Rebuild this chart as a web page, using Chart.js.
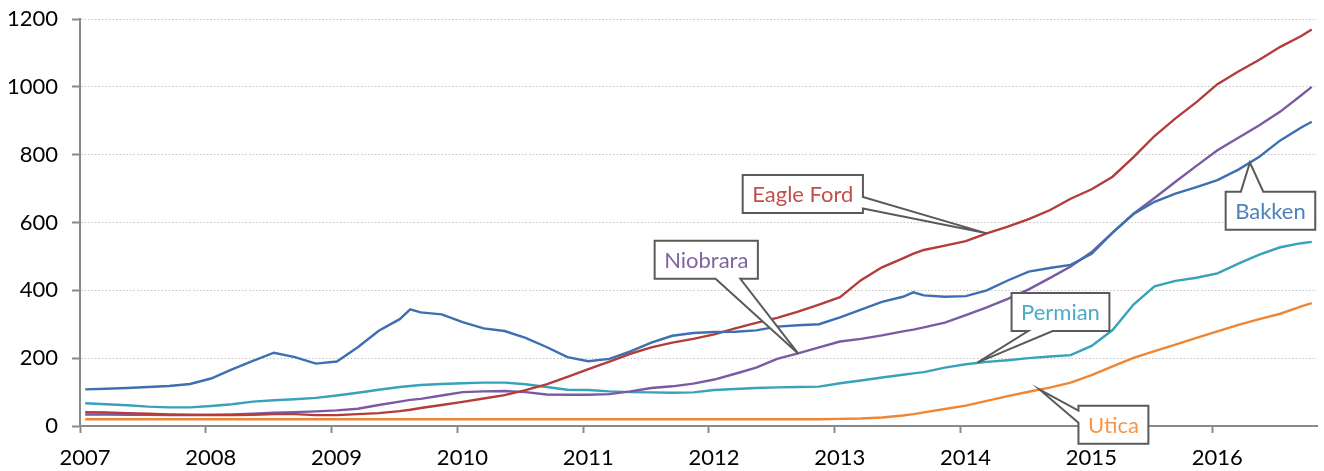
<!DOCTYPE html>
<html>
<head>
<meta charset="utf-8">
<script src="https://cdn.jsdelivr.net/npm/chart.js@4.4.0/dist/chart.umd.min.js"></script>
<style>
  html, body { margin: 0; padding: 0; background: #fff; }
  #wrap { width: 1324px; height: 471px; }
</style>
</head>
<body>
<div id="wrap"><canvas id="chart" width="1324" height="471"></canvas></div>
<script>
// Monthly production by play, months counted from Jan 2007 (points sit mid-month)
const months = [0, 2, 4, 6, 8, 10, 12, 14, 16, 18, 20, 22, 24, 26, 28, 30, 31, 32, 34, 36, 38, 40, 42, 44, 46, 48,
    50, 52, 54, 56, 58, 60, 62, 64, 66, 68, 70, 72, 74, 76, 78, 79, 80, 82, 84, 86, 88, 90, 92, 94, 96, 98,
    100, 102, 104, 106, 108, 110, 112, 114, 116, 117];

const yearLabels = ['2007', '2008', '2009', '2010', '2011', '2012', '2013', '2014', '2015', '2016'];

const bakken = [108, 110, 112, 115, 118, 124, 140, 167, 192, 216, 203, 184, 190, 232, 281, 315, 344, 335, 329, 306,
    288, 280, 260, 233, 203, 191, 198, 220, 246, 266, 274, 277, 278, 282, 293, 297, 300, 320, 343, 366, 381, 394,
    385, 381, 383, 400, 429, 455, 466, 475, 508, 570, 625, 661, 685, 704, 725, 756, 794, 842, 880, 897];

const eagleFord = [41, 40, 38, 36, 34, 33, 32, 32, 33, 35, 35, 32, 32, 35, 38, 44, 48, 53, 62, 71, 81, 91, 106,
    123, 145, 168, 190, 213, 232, 246, 257, 270, 288, 304, 319, 337, 358, 380, 430, 468, 494, 508, 519, 532, 545,
    568, 588, 610, 636, 670, 698, 735, 793, 855, 907, 955, 1008, 1045, 1080, 1118, 1150, 1169];

const niobrara = [34, 34, 33, 33, 32, 32, 33, 34, 36, 39, 41, 43, 46, 51, 62, 72, 77, 80, 90, 100, 102, 103, 100,
    93, 92, 92, 94, 102, 112, 117, 125, 137, 154, 172, 198, 214, 232, 249, 257, 267, 279, 284, 291, 305, 327, 350,
    375, 403, 436, 470, 513, 570, 626, 672, 720, 767, 813, 850, 887, 927, 975, 1000];

const permian = [67, 64, 61, 57, 55, 55, 59, 64, 72, 76, 79, 83, 90, 98, 107, 115, 118, 121, 124, 126, 128, 128,
    123, 115, 107, 106, 102, 100, 99, 98, 99, 106, 109, 112, 114, 115, 116, 126, 134, 143, 151, 155, 159, 172, 182,
    189, 194, 200, 205, 209, 236, 283, 358, 412, 428, 437, 450, 479, 505, 527, 539, 543];

const utica = [20, 20, 20, 20, 20, 20, 20, 20, 20, 20, 20, 20, 20, 20, 20, 20, 20, 20, 20, 20, 20, 20, 20, 20, 20,
    20, 20, 20, 20, 20, 20, 20, 20, 20, 20, 20, 20, 21, 22, 25, 31, 35, 40, 50, 60, 74, 88, 101, 113, 128, 150,
    176, 201, 221, 240, 260, 279, 298, 315, 331, 353, 362];

const seriesNames = ['Bakken', 'Eagle Ford', 'Niobrara', 'Permian', 'Utica'];
const lineColors = ['#3d6fb1', '#b33d3b', '#7a5aa2', '#37a2ba', '#ee8634'];
const labelColors = ['#4f81bd', '#c0504d', '#8064a2', '#4bacc6', '#f79646'];

// Callout boxes: anchor on the line and box centre in data units (month, value)
const callouts = [
    { series: 1, at: [86.5, 568], box: [68.95, 684], side: 'right', wedge: [0.58, 0.88] },
    { series: 2, at: [68.5, 214], box: [59.74, 490], side: 'bottom', wedge: [0.59, 0.83] },
    { series: 3, at: [85.6, 187], box: [93.53, 336], side: 'bottom', wedge: [0.17, 0.42] },
    { series: 0, at: [111.6, 777], box: [113.56, 635], side: 'top', wedge: [0.17, 0.42] },
    { series: 4, at: [91.55, 107], box: [98.58, 4], side: 'left', wedge: [0.13, 0.45] }
];

const FONT = 'Lato, "Open Sans", sans-serif';
const FONT_SIZE = 22;
const AXIS_GREY = '#8a8a8a';

function toPoints(values) {
    return values.map((v, i) => ({ x: months[i] + 0.5, y: v }));
}

const seriesValues = [bakken, eagleFord, niobrara, permian, utica];

const calloutPlugin = {
    id: 'callouts',
    afterDatasetsDraw(chart) {
        const ctx = chart.ctx;
        const xs = chart.scales.x;
        const ys = chart.scales.y;
        ctx.save();
        ctx.font = FONT_SIZE + 'px ' + FONT;
        callouts.forEach(c => {
            const text = seriesNames[c.series];
            const w = ctx.measureText(text).width + 19;
            const h = 38;
            const cx = xs.getPixelForValue(c.box[0]);
            const cy = ys.getPixelForValue(c.box[1]);
            const ax = xs.getPixelForValue(c.at[0]);
            const ay = ys.getPixelForValue(c.at[1]);
            const l = cx - w / 2, r = cx + w / 2, t = cy - h / 2, b = cy + h / 2;
            const [f1, f2] = c.wedge;

            ctx.beginPath();
            ctx.moveTo(l, t);
            if (c.side === 'top') {
                ctx.lineTo(l + f1 * w, t);
                ctx.lineTo(ax, ay);
                ctx.lineTo(l + f2 * w, t);
            }
            ctx.lineTo(r, t);
            if (c.side === 'right') {
                ctx.lineTo(r, t + f1 * h);
                ctx.lineTo(ax, ay);
                ctx.lineTo(r, t + f2 * h);
            }
            ctx.lineTo(r, b);
            if (c.side === 'bottom') {
                ctx.lineTo(l + f2 * w, b);
                ctx.lineTo(ax, ay);
                ctx.lineTo(l + f1 * w, b);
            }
            ctx.lineTo(l, b);
            if (c.side === 'left') {
                ctx.lineTo(l, t + f2 * h);
                ctx.lineTo(ax, ay);
                ctx.lineTo(l, t + f1 * h);
            }
            ctx.closePath();
            ctx.fillStyle = '#ffffff';
            ctx.fill();
            ctx.lineWidth = 2;
            ctx.lineJoin = 'miter';
            ctx.strokeStyle = '#5a5a5a';
            ctx.stroke();

            ctx.fillStyle = labelColors[c.series];
            ctx.textAlign = 'center';
            ctx.textBaseline = 'middle';
            ctx.fillText(text, cx, cy + 1);
        });
        ctx.restore();
    }
};

new Chart(document.getElementById('chart'), {
    type: 'line',
    data: {
        datasets: seriesNames.map((name, i) => ({
            label: name,
            data: toPoints(seriesValues[i]),
            borderColor: lineColors[i],
            backgroundColor: lineColors[i],
            borderWidth: 2.4,
            pointRadius: 0,
            tension: 0,
            fill: false
        }))
    },
    options: {
        responsive: false,
        animation: false,
        devicePixelRatio: 1,
        layout: { padding: { top: 19, right: 7, left: 0, bottom: 0 } },
        plugins: {
            legend: { display: false },
            tooltip: { enabled: false }
        },
        scales: {
            x: {
                type: 'linear',
                min: 0,
                max: 118,
                afterFit: scale => {
                    scale.height = 45;
                    scale.paddingLeft = 0;
                    scale.paddingRight = 0;
                },
                grid: {
                    drawOnChartArea: false,
                    drawTicks: true,
                    tickLength: 7,
                    tickWidth: 2,
                    tickColor: AXIS_GREY
                },
                border: { display: true, color: AXIS_GREY, width: 2 },
                ticks: {
                    stepSize: 12,
                    includeBounds: false,
                    autoSkip: false,
                    maxRotation: 0,
                    labelOffset: 5,
                    padding: 12,
                    color: '#000',
                    font: { family: FONT, size: FONT_SIZE },
                    callback: value => yearLabels[value / 12] || ''
                }
            },
            y: {
                min: 0,
                max: 1200,
                afterFit: scale => {
                    scale.width = 80;
                    scale.paddingTop = 0;
                    scale.paddingBottom = 0;
                },
                grid: {
                    color: c => c.tick && c.tick.value === 0 ? 'rgba(0,0,0,0)' : '#c4c4c4',
                    lineWidth: 1,
                    drawTicks: true,
                    tickLength: 8,
                    tickWidth: 2,
                    tickColor: AXIS_GREY,
                    tickBorderDash: []
                },
                border: { display: true, color: AXIS_GREY, width: 2, dash: [1.5, 2] },
                ticks: {
                    stepSize: 200,
                    padding: 14,
                    color: '#000',
                    font: { family: FONT, size: FONT_SIZE },
                    callback: value => String(value)
                }
            }
        }
    },
    plugins: [calloutPlugin]
});
</script>
</body>
</html>
